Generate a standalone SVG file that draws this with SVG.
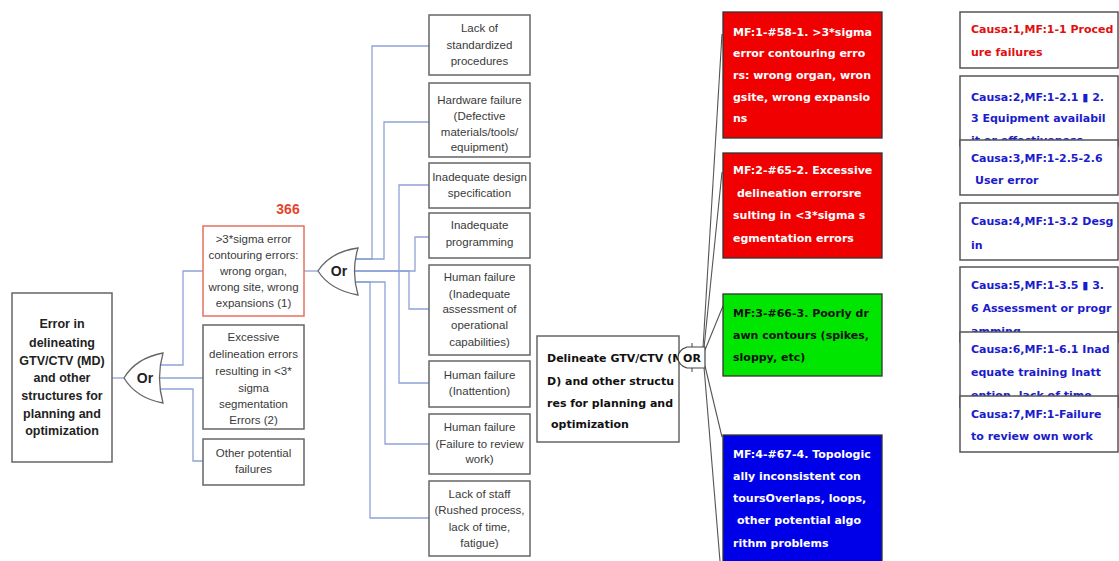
<svg xmlns="http://www.w3.org/2000/svg" width="1119" height="561" viewBox="0 0 1119 561">
<style>
.bg{fill:#fff}
.box{fill:#fff;stroke:#666;stroke-width:1.5}
.boxr{fill:#fff;stroke:#e8705f;stroke-width:1.5}
.t{font-family:"Liberation Sans",Arial,sans-serif;font-size:11.5px;fill:#3a3a3a;text-anchor:middle}
.tb{font-family:"Liberation Sans",Arial,sans-serif;font-size:12.5px;font-weight:bold;fill:#222;text-anchor:middle}
.gate{fill:#fff;stroke:#666;stroke-width:1.3}
.gt{font-family:"Liberation Sans",Arial,sans-serif;font-size:14px;font-weight:bold;fill:#222;text-anchor:middle}
.c{fill:none;stroke:#8fa3d8;stroke-width:1.3}
.k{fill:none;stroke:#555;stroke-width:1.1}
.mf{stroke:#333;stroke-width:1.3}
.mt{font-family:"DejaVu Sans",Verdana,sans-serif;font-size:11px;font-weight:bold;fill:#fff}
.dt{font-family:"DejaVu Sans",Verdana,sans-serif;font-size:11px;font-weight:bold;fill:#111}
.cb{fill:#fff;stroke:#555;stroke-width:1.5}
.ct{font-family:"DejaVu Sans",Verdana,sans-serif;font-size:11px;font-weight:bold;fill:#1c1ccc}
</style>
<rect class="bg" x="0" y="0" width="1119" height="561"/>

<g id="connectors">
  <path class="c" d="M112 378 H125"/>
  <path class="c" d="M160 365 H183 V271 H203"/>
  <path class="c" d="M159 378 H203"/>
  <path class="c" d="M160 389 H193 V461 H203"/>
  <path class="c" d="M304 271 H319"/>
  <path class="c" d="M356 259 H372 V46 H429"/>
  <path class="c" d="M356 259 H384 V122 H429"/>
  <path class="c" d="M399 271 V185 H429"/>
  <path class="c" d="M355 271 H415 V237 H429"/>
  <path class="c" d="M355 271 H409 V309 H429"/>
  <path class="c" d="M399 271 V383 H429"/>
  <path class="c" d="M356 282 H385 V444 H429"/>
  <path class="c" d="M356 282 H370 V518 H429"/>
  <path class="k" d="M703 348 L722 34"/>
  <path class="k" d="M704 348 L722 172"/>
  <path class="k" d="M705 350 L723 306"/>
  <path class="k" d="M705 366 L722 437"/>
  <path class="k" d="M704 367 L720 561"/>
</g>

<g id="n-root">
  <rect class="box" x="12" y="293" width="100" height="169"/>
  <text class="tb" x="62" y="328">Error in</text>
  <text class="tb" x="62" y="347">delineating</text>
  <text class="tb" x="62" y="365">GTV/CTV (MD)</text>
  <text class="tb" x="62" y="382">and other</text>
  <text class="tb" x="62" y="400">structures for</text>
  <text class="tb" x="62" y="418">planning and</text>
  <text class="tb" x="62" y="435">optimization</text>
</g>

<g id="gate-1">
  <path class="gate" d="M124 378 Q136 358 163 353 Q156 378 163 403 Q136 398 124 378 Z"/>
  <text class="gt" x="145" y="383">Or</text>
</g>

<g id="n-a">
  <text x="288" y="214" style="font-family:'Liberation Sans',Arial,sans-serif;font-size:14px;font-weight:bold;fill:#e8452f;text-anchor:middle">366</text>
  <rect class="boxr" x="203" y="226" width="101" height="90"/>
  <text class="t" x="253.5" y="243">&gt;3*sigma error</text>
  <text class="t" x="253.5" y="259">contouring errors:</text>
  <text class="t" x="253.5" y="275">wrong organ,</text>
  <text class="t" x="253.5" y="291">wrong site, wrong</text>
  <text class="t" x="253.5" y="307">expansions (1)</text>
</g>

<g id="n-b">
  <rect class="box" x="203" y="325" width="101" height="104"/>
  <text class="t" x="253.5" y="341">Excessive</text>
  <text class="t" x="253.5" y="358">delineation errors</text>
  <text class="t" x="253.5" y="375">resulting in &lt;3*</text>
  <text class="t" x="253.5" y="392">sigma</text>
  <text class="t" x="253.5" y="408">segmentation</text>
  <text class="t" x="253.5" y="424">Errors (2)</text>
</g>

<g id="n-c">
  <rect class="box" x="203" y="439" width="101" height="46"/>
  <text class="t" x="253.5" y="457">Other potential</text>
  <text class="t" x="253.5" y="473">failures</text>
</g>

<g id="gate-2">
  <path class="gate" d="M318 271 Q330 252 358 248 Q351 271 358 295 Q330 290 318 271 Z"/>
  <text class="gt" x="339" y="276">Or</text>
</g>

<g id="n-1">
  <rect class="box" x="429" y="15" width="101" height="60"/>
  <text class="t" x="479.5" y="32">Lack of</text>
  <text class="t" x="479.5" y="49">standardized</text>
  <text class="t" x="479.5" y="65">procedures</text>
</g>
<g id="n-2">
  <rect class="box" x="429" y="83" width="101" height="74"/>
  <text class="t" x="479.5" y="104">Hardware failure</text>
  <text class="t" x="479.5" y="120">(Defective</text>
  <text class="t" x="479.5" y="136">materials/tools/</text>
  <text class="t" x="479.5" y="151">equipment)</text>
</g>
<g id="n-3">
  <rect class="box" x="429" y="163" width="101" height="45"/>
  <text class="t" x="479.5" y="181">Inadequate design</text>
  <text class="t" x="479.5" y="197">specification</text>
</g>
<g id="n-4">
  <rect class="box" x="429" y="213" width="101" height="45"/>
  <text class="t" x="479.5" y="229">Inadequate</text>
  <text class="t" x="479.5" y="246">programming</text>
</g>
<g id="n-5">
  <rect class="box" x="429" y="265" width="101" height="90"/>
  <text class="t" x="479.5" y="281">Human failure</text>
  <text class="t" x="479.5" y="298">(Inadequate</text>
  <text class="t" x="479.5" y="313">assessment of</text>
  <text class="t" x="479.5" y="329">operational</text>
  <text class="t" x="479.5" y="346">capabilities)</text>
</g>
<g id="n-6">
  <rect class="box" x="429" y="361" width="101" height="46"/>
  <text class="t" x="479.5" y="379">Human failure</text>
  <text class="t" x="479.5" y="395">(Inattention)</text>
</g>
<g id="n-7">
  <rect class="box" x="429" y="414" width="101" height="60"/>
  <text class="t" x="479.5" y="431">Human failure</text>
  <text class="t" x="479.5" y="448">(Failure to review</text>
  <text class="t" x="479.5" y="463">work)</text>
</g>
<g id="n-8">
  <rect class="box" x="429" y="481" width="101" height="75"/>
  <text class="t" x="479.5" y="498">Lack of staff</text>
  <text class="t" x="479.5" y="514">(Rushed process,</text>
  <text class="t" x="479.5" y="531">lack of time,</text>
  <text class="t" x="479.5" y="547">fatigue)</text>
</g>

<g id="n-delineate">
  <rect class="box" x="537" y="336" width="142" height="106"/>
  <text class="dt" x="547" y="362">Delineate GTV/CTV (M</text>
  <text class="dt" x="547" y="385">D) and other structu</text>
  <text class="dt" x="547" y="407">res for planning and</text>
  <text class="dt" x="551" y="428">optimization</text>
</g>

<g id="gate-3">
  <path d="M705 347 H687 Q678 350 678 357.5 Q678 365 687 368 H705 Z" fill="#fff" stroke="#444" stroke-width="1.2"/>
  <path d="M692 343 V347 M692 368 V372" stroke="#444" stroke-width="1"/>
  <text x="692" y="362" style="font-family:'DejaVu Sans',Verdana,sans-serif;font-size:11px;font-weight:bold;fill:#111;text-anchor:middle">OR</text>
</g>

<g id="mf-1">
  <rect class="mf" x="723" y="12" width="159" height="126" fill="#f00000"/>
  <text class="mt" x="733" y="36">MF:1-#58-1. &gt;3*sigma</text>
  <text class="mt" x="733" y="57">error contouring erro</text>
  <text class="mt" x="733" y="79">rs: wrong organ, wron</text>
  <text class="mt" x="733" y="101">gsite, wrong expansio</text>
  <text class="mt" x="733" y="122">ns</text>
</g>
<g id="mf-2">
  <rect class="mf" x="723" y="153" width="159" height="105" fill="#f00000"/>
  <text class="mt" x="733" y="174">MF:2-#65-2. Excessive</text>
  <text class="mt" x="737" y="197">delineation errorsre</text>
  <text class="mt" x="733" y="219">sulting in &lt;3*sigma s</text>
  <text class="mt" x="733" y="242">egmentation errors</text>
</g>
<g id="mf-3">
  <rect class="mf" x="723" y="294" width="159" height="82" fill="#00e600"/>
  <text class="dt" x="733" y="317">MF:3-#66-3. Poorly dr</text>
  <text class="dt" x="733" y="339">awn contours (spikes,</text>
  <text class="dt" x="733" y="361">sloppy, etc)</text>
</g>
<g id="mf-4">
  <rect class="mf" x="723" y="435" width="159" height="140" fill="#0000e8"/>
  <text class="mt" x="733" y="458">MF:4-#67-4. Topologic</text>
  <text class="mt" x="733" y="480">ally inconsistent con</text>
  <text class="mt" x="733" y="502">toursOverlaps, loops,</text>
  <text class="mt" x="737" y="524">other potential algo</text>
  <text class="mt" x="733" y="547">rithm problems</text>
</g>

<g id="causa-1">
  <rect class="cb" x="960" y="12" width="158" height="56"/>
  <text class="ct" x="971" y="33" style="fill:#e01010">Causa:1,MF:1-1 Proced</text>
  <text class="ct" x="971" y="56" style="fill:#e01010">ure failures</text>
</g>
<g id="causa-2">
  <rect class="cb" x="960" y="76" width="158" height="70"/>
  <text class="ct" x="971" y="101">Causa:2,MF:1-2.1 ▮ 2.</text>
  <text class="ct" x="971" y="122">3 Equipment availabil</text>
  <text class="ct" x="971" y="144">it or effectiveness</text>
</g>
<g id="causa-3">
  <rect class="cb" x="960" y="140" width="158" height="55"/>
  <text class="ct" x="971" y="162">Causa:3,MF:1-2.5-2.6</text>
  <text class="ct" x="975" y="184">User error</text>
</g>
<g id="causa-4">
  <rect class="cb" x="960" y="203" width="158" height="57"/>
  <text class="ct" x="971" y="225">Causa:4,MF:1-3.2 Desg</text>
  <text class="ct" x="971" y="249">in</text>
</g>
<g id="causa-5">
  <rect class="cb" x="960" y="267" width="158" height="75"/>
  <text class="ct" x="971" y="289">Causa:5,MF:1-3.5 ▮ 3.</text>
  <text class="ct" x="971" y="312">6 Assessment or progr</text>
  <text class="ct" x="971" y="335">amming</text>
</g>
<g id="causa-6">
  <rect class="cb" x="960" y="332" width="158" height="75"/>
  <text class="ct" x="971" y="353">Causa:6,MF:1-6.1 Inad</text>
  <text class="ct" x="971" y="376">equate training Inatt</text>
  <text class="ct" x="971" y="399">ention, lack of time</text>
</g>
<g id="causa-7">
  <rect class="cb" x="960" y="396" width="158" height="56"/>
  <text class="ct" x="971" y="418">Causa:7,MF:1-Failure</text>
  <text class="ct" x="971" y="440">to review own work</text>
</g>
</svg>
